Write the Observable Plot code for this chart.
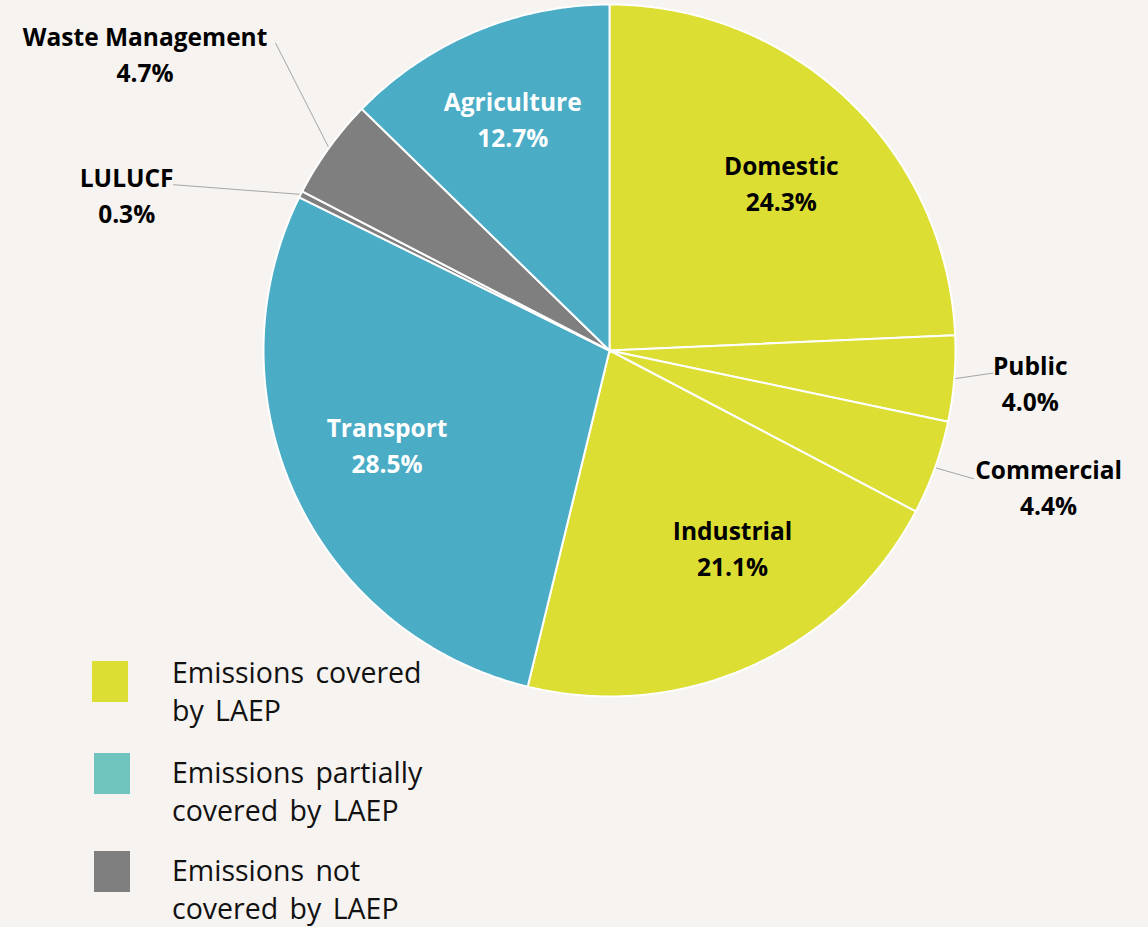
<!DOCTYPE html>
<html>
<head>
<meta charset="utf-8">
<script src="https://cdn.jsdelivr.net/npm/d3@7"></script>
<script src="https://cdn.jsdelivr.net/npm/@observablehq/plot@0.6"></script>
<style>
  html, body { margin: 0; padding: 0; background: #F6F3F0; }
  #wrap { position: relative; width: 1148px; height: 927px; overflow: hidden; }
  #chart svg { display: block; }
  .legend { position: absolute; left: 0; top: 0; font-family: "Open Sans", sans-serif; font-size: 28.5px; color: #111; }
  .sw { position: absolute; width: 36px; height: 41px; }
  .lt { position: absolute; left: 172px; line-height: 38px; white-space: nowrap; word-spacing: 4px; }
</style>
</head>
<body>
<div id="wrap">
  <div id="chart"></div>
  <div class="legend" id="legend"></div>
</div>
<script>
// ---- data ----
const names = ["Domestic", "Public", "Commercial", "Industrial", "Transport", "LULUCF", "Waste Management", "Agriculture"];
const shares = [24.3, 4.0, 4.4, 21.1, 28.5, 0.3, 4.7, 12.7];
const coverage = ["covered", "covered", "covered", "covered", "partial", "not", "not", "partial"];
const coverageKeys = ["covered", "partial", "not"];
const legendLines = [
  ["Emissions covered", "by LAEP"],
  ["Emissions partially", "covered by LAEP"],
  ["Emissions not", "covered by LAEP"]
];

// ---- styles / layout ----
const sliceColors = {covered: "#DCDE33", partial: "#4BACC6", not: "#7F7F7F"};
const legendColors = {covered: "#DCDE33", partial: "#70C4BE", not: "#7F7F7F"};
const labelLayout = {
  "Domestic": {r: 0.69, shift: 2.3, color: "#000"},
  "Public": {r: 1.22, shift: 0, color: "#000", leader: {r: 1.11, shift: -1.3}},
  "Commercial": {r: 1.33, shift: -2.4, color: "#000", leader: {r: 1.115, shift: -0.4}},
  "Industrial": {r: 0.675, shift: -7.5, color: "#000"},
  "Transport": {r: 0.70, shift: 1.7, color: "#fff"},
  "LULUCF": {r: 1.465, shift: -9.1, color: "#000", leader: {r: 1.348, shift: -6.0}},
  "Waste Management": {r: 1.59, shift: -3.4, color: "#000", leader: {r: 1.311, shift: 6.8}},
  "Agriculture": {r: 0.72, shift: 0, color: "#fff"}
};
const legendTops = [661, 753, 851];
const legendLefts = [92, 94, 94];
const legendTextTops = [653, 753, 851];

// ---- geometry from data ----
const total = d3.sum(shares);
let cum = 0;
const slices = names.map((name, i) => {
  const a0 = cum / total * 360;
  cum += shares[i];
  const a1 = cum / total * 360;
  return {name, share: shares[i], group: coverage[i], a0, a1, mid: (a0 + a1) / 2};
});
const rad = a => a * Math.PI / 180;
const polyPts = [];
for (const s of slices) {
  polyPts.push({name: s.name, group: s.group, x: 0, y: 0});
  const n = Math.max(2, Math.ceil((s.a1 - s.a0) / 0.5));
  for (let k = 0; k <= n; k++) {
    const a = rad(s.a0 + (s.a1 - s.a0) * k / n);
    polyPts.push({name: s.name, group: s.group, x: Math.sin(a), y: Math.cos(a)});
  }
}
const labels = slices.map(s => {
  const L = labelLayout[s.name];
  const a = rad(s.mid + L.shift);
  return {
    text: s.name + "\n" + s.share.toFixed(1) + "%",
    x: L.r * Math.sin(a), y: L.r * Math.cos(a), color: L.color
  };
});
const leaders = [];
for (const s of slices) {
  const L = labelLayout[s.name];
  if (!L.leader) continue;
  const a = rad(s.mid);
  const b = rad(s.mid + L.leader.shift);
  leaders.push({name: s.name, x: Math.sin(a), y: Math.cos(a)});
  leaders.push({name: s.name, x: L.leader.r * Math.sin(b), y: L.leader.r * Math.cos(b)});
}

const chart = Plot.plot({
  width: 1148,
  height: 927,
  marginLeft: 263,
  marginRight: 193,
  marginTop: 4,
  marginBottom: 231,
  x: {domain: [-1, 1], axis: null},
  y: {domain: [-1, 1], axis: null},
  color: {domain: coverageKeys, range: coverageKeys.map(k => sliceColors[k])},
  style: {background: "transparent", overflow: "visible"},
  marks: [
    Plot.line(leaders, {x: "x", y: "y", z: "name", stroke: "#A6A6A6", strokeWidth: 1}),
    Plot.line(polyPts, {x: "x", y: "y", z: "name", fill: "group", stroke: "white", strokeWidth: 2, curve: "linear-closed", strokeLinejoin: "round"}),
    Plot.text(labels, {x: "x", y: "y", dy: -3, text: "text", fill: "color", fontFamily: "Open Sans", fontWeight: 700, fontSize: 24.5, lineHeight: 1.47, textAnchor: "middle", lineAnchor: "middle"})
  ]
});
document.getElementById("chart").appendChild(chart);

// ---- legend ----
const leg = document.getElementById("legend");
coverageKeys.forEach((k, i) => {
  const sw = document.createElement("div");
  sw.className = "sw";
  sw.style.left = legendLefts[i] + "px";
  sw.style.top = legendTops[i] + "px";
  sw.style.background = legendColors[k];
  leg.appendChild(sw);
  const t = document.createElement("div");
  t.className = "lt";
  t.style.top = legendTextTops[i] + "px";
  t.innerHTML = legendLines[i].join("<br>");
  leg.appendChild(t);
});
</script>
</body>
</html>
